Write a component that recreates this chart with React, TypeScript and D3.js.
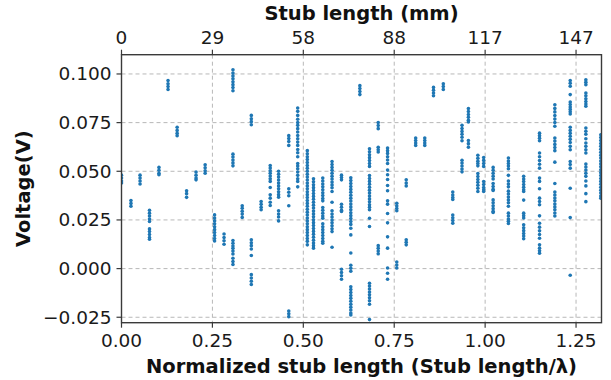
import * as d3 from 'd3'

// normalized stub length of each measured group of points
const stubX = [
  0.0, 0.026, 0.051, 0.077, 0.103, 0.128, 0.153, 0.179, 0.205, 0.23,
  0.256, 0.282, 0.3065, 0.332, 0.357, 0.384, 0.409, 0.432, 0.46, 0.4846,
  0.511, 0.528, 0.5535, 0.579, 0.605, 0.6306, 0.6555, 0.682, 0.706, 0.7317,
  0.757, 0.783, 0.809, 0.834, 0.858, 0.885, 0.911, 0.9364, 0.954, 0.98,
  0.996, 1.022, 1.064, 1.106, 1.1496, 1.1917, 1.234, 1.277, 1.318,
]

// voltages read at each stub length (V)
const voltages: number[][] = [
  [0.048, 0.0465, 0.045, 0.044],
  [0.035, 0.0335, 0.032],
  [0.048, 0.0465, 0.045, 0.0435],
  [0.03, 0.0285, 0.027, 0.0255, 0.0242, 0.0204, 0.019, 0.0175, 0.016, 0.0151],
  [0.052, 0.0505, 0.049, 0.0482],
  [0.0966, 0.095, 0.0935, 0.092],
  [0.0726, 0.071, 0.0695, 0.0683],
  [0.04, 0.0385, 0.0366],
  [0.0496, 0.048, 0.0465, 0.0456],
  [0.0533, 0.0518, 0.0503, 0.049],
  [0.0276, 0.026, 0.0245, 0.023, 0.0215, 0.02, 0.0185, 0.017, 0.0155, 0.0142],
  [0.0178, 0.016, 0.0143, 0.0125],
  [0.1022, 0.1005, 0.099, 0.0975, 0.096, 0.0945, 0.093, 0.0914, 0.0588, 0.0573, 0.0558, 0.0543, 0.0528,
    0.0144, 0.013, 0.0116, 0.0104, 0.009, 0.0075, 0.0053, 0.0036, 0.0021],
  [0.0323, 0.031, 0.0295, 0.028, 0.0263],
  [0.0787, 0.077, 0.0755, 0.0739, 0.0148, 0.0133, 0.0118, 0.0101, 0.0067, -0.0031, -0.0048, -0.0065, -0.0082],
  [0.0345, 0.033, 0.0315, 0.0302],
  [0.053, 0.0517, 0.0503, 0.049, 0.0476, 0.0462, 0.0448, 0.0417, 0.0379, 0.0362, 0.0341, 0.0324],
  [0.05, 0.0485, 0.047, 0.0455, 0.044, 0.0425, 0.041, 0.0395, 0.038, 0.0367, 0.0297, 0.028, 0.0265, 0.0245],
  [0.0683, 0.0668, 0.0653, 0.0633, 0.041, 0.0392, 0.0374, 0.0323, -0.0218, -0.0232, -0.0247],
  [0.0825, 0.0808, 0.0787, 0.0767, 0.075, 0.0736, 0.0719, 0.0702, 0.0684, 0.0667, 0.065, 0.0633, 0.0612,
    0.0595, 0.0575, 0.054, 0.0527, 0.0513, 0.0496, 0.0479, 0.0461, 0.0448, 0.042],
  [0.0606, 0.059, 0.0575, 0.056, 0.0545, 0.053, 0.0515, 0.05, 0.0485, 0.047, 0.0455, 0.044, 0.0425, 0.041,
    0.0395, 0.038, 0.0365, 0.035, 0.0335, 0.032, 0.0305, 0.029, 0.0275, 0.026, 0.0245, 0.023, 0.0215, 0.02,
    0.0185, 0.017, 0.0155, 0.014, 0.0122],
  [0.0461, 0.0446, 0.0431, 0.0416, 0.0401, 0.0386, 0.0371, 0.0356, 0.0341, 0.0326, 0.0311, 0.0296, 0.0281,
    0.0266, 0.0251, 0.0236, 0.0221, 0.0206, 0.0191, 0.0176, 0.0161, 0.0146, 0.0131, 0.0118, 0.0105],
  [0.0465, 0.045, 0.0435, 0.042, 0.0405, 0.039, 0.0375, 0.036, 0.0348, 0.0314, 0.03, 0.0285, 0.027, 0.0259,
    0.023, 0.0215, 0.02, 0.0185, 0.017, 0.0155, 0.014, 0.013],
  [0.055, 0.0535, 0.052, 0.0505, 0.049, 0.0475, 0.046, 0.0445, 0.043, 0.0415, 0.0396, 0.0341, 0.0297, 0.028,
    0.0265, 0.025, 0.0235, 0.022, 0.0205, 0.019, 0.011],
  [0.048, 0.0468, 0.0456, 0.033, 0.0315, 0.03, 0.0293, -0.0003, -0.002, -0.0037, -0.0055],
  [0.0467, 0.0452, 0.0437, 0.0422, 0.0407, 0.0392, 0.0377, 0.0362, 0.0347, 0.0332, 0.0317, 0.0302, 0.0287,
    0.0272, 0.0257, 0.0242, 0.0227, 0.0207, 0.0173, 0.008, 0.0017, 0.0002, -0.0014, -0.0093, -0.0108, -0.0123,
    -0.0138, -0.0153, -0.0168, -0.0183, -0.0198, -0.0213, -0.0228, -0.0238],
  [0.094, 0.0925, 0.091, 0.0894],
  [0.0616, 0.06, 0.0585, 0.057, 0.0555, 0.054, 0.0525, 0.0478, 0.0463, 0.0448, 0.0433, 0.0418, 0.0403, 0.0388,
    0.0373, 0.0358, 0.0343, 0.0328, 0.0315, 0.0302, 0.0259, 0.0216, -0.0075, -0.009, -0.0105, -0.012, -0.0135,
    -0.015, -0.0165, -0.0183, -0.0262],
  [0.075, 0.0735, 0.0719, 0.0623, 0.061, 0.0599, 0.0118, 0.0104, 0.009, 0.0076],
  [0.0619, 0.0606, 0.0592, 0.0575, 0.0558, 0.054, 0.0506, 0.0482, 0.0458, 0.0427, 0.04, 0.0348, 0.0331,
    0.0283, 0.0235, 0.0163, 0.0105, 0.0003, -0.0024, -0.0055],
  [0.0336, 0.0322, 0.0309, 0.0297, 0.0034, 0.0018, 0.0003],
  [0.0456, 0.044, 0.0425, 0.0148, 0.0135, 0.0122],
  [0.0671, 0.0658, 0.0645, 0.0633],
  [0.0671, 0.0658, 0.0645, 0.0633],
  [0.0931, 0.0916, 0.0902, 0.0888],
  [0.095, 0.0935, 0.092],
  [0.0393, 0.0378, 0.0365, 0.0355, 0.0275, 0.0261, 0.0247, 0.0233],
  [0.0736, 0.072, 0.0705, 0.069, 0.0675, 0.0657, 0.0557, 0.0542, 0.0527, 0.0512, 0.0497],
  [0.0822, 0.0807, 0.0792, 0.0777, 0.0762, 0.0753, 0.0658, 0.0642, 0.0624],
  [0.0582, 0.0567, 0.0552, 0.054, 0.0528, 0.0488, 0.0473, 0.0458, 0.0443, 0.0428, 0.0413, 0.0396],
  [0.0571, 0.0556, 0.054, 0.0525, 0.0447, 0.0432, 0.0417, 0.0405, 0.0396],
  [0.052, 0.0505, 0.049, 0.0475, 0.046, 0.0437, 0.0422, 0.0408, 0.0401, 0.0353, 0.0338, 0.0323, 0.0308,
    0.0295, 0.0288],
  [0.0568, 0.0553, 0.054, 0.0527, 0.0513, 0.0479, 0.045, 0.0435, 0.042, 0.0398, 0.0383, 0.0368, 0.0353,
    0.0338, 0.032, 0.0285, 0.027, 0.0255, 0.0243, 0.0232],
  [0.0474, 0.046, 0.0447, 0.0432, 0.0418, 0.0405, 0.0396, 0.0352, 0.0285, 0.0272, 0.026, 0.0225, 0.021,
    0.0195, 0.018, 0.0167, 0.0153],
  [0.0696, 0.0683, 0.067, 0.0657, 0.0594, 0.0575, 0.0555, 0.0536, 0.0516, 0.0465, 0.0448, 0.041, 0.0362,
    0.0345, 0.0328, 0.0271, 0.0233, 0.0213, 0.0194, 0.0175, 0.0156, 0.0122, 0.0105, 0.0092, 0.0079],
  [0.0842, 0.0823, 0.0805, 0.0786, 0.0768, 0.075, 0.0731, 0.0671, 0.0655, 0.0638, 0.0622, 0.0606, 0.0547,
    0.0437, 0.0393, 0.0378, 0.0363, 0.0348, 0.0332, 0.0317, 0.0302, 0.0286, 0.027],
  [0.0966, 0.0952, 0.0937, 0.0894, 0.0856, 0.0843, 0.083, 0.0818, 0.0806, 0.0794, 0.0726, 0.071, 0.0695,
    0.068, 0.0664, 0.0648, 0.0628, 0.0611, 0.055, 0.0535, 0.0516, 0.0413, 0.0262, -0.0034],
  [0.097, 0.0958, 0.0945, 0.0902, 0.0888, 0.0873, 0.0858, 0.0846, 0.0834, 0.0722, 0.0706, 0.069, 0.0667,
    0.0645, 0.0628, 0.061, 0.0594, 0.0537, 0.0522, 0.0506, 0.049, 0.0474, 0.045, 0.0425, 0.0385, 0.0344],
  [0.0688, 0.0673, 0.0658, 0.0643, 0.0628, 0.0613, 0.0598, 0.0583, 0.0568, 0.0553, 0.0538, 0.0523, 0.0508,
    0.0493, 0.0478, 0.0463, 0.0448, 0.0433, 0.0418, 0.0403, 0.0388, 0.0373, 0.0362],
]

const xTicks = [0, 0.25, 0.5, 0.75, 1.0, 1.25]
const mmTickLabels = ['0', '29', '58', '88', '117', '147']
const yTicks = [-0.025, 0, 0.025, 0.05, 0.075, 0.1]

const W = 611, H = 380
const margin = { top: 54.7, right: 9.5, bottom: 57.3, left: 121.5 }
const FONT = '"DejaVu Sans", sans-serif'

export default function App() {
  const x = d3.scaleLinear().domain([0, 1.32]).range([margin.left, W - margin.right])
  const y = d3.scaleLinear().domain([-0.0278, 0.1099]).range([H - margin.bottom, margin.top])
  const [x0, x1] = x.range()
  const [y0, y1] = y.range() // bottom, top

  const pts = stubX.flatMap((sx, i) => voltages[i].map(v => ({ sx, v })))
  const fx = d3.format('.2f')
  const fy = d3.format('.3f')
  const axisCol = '#3a3a3a'
  const gridCol = '#b8b8b8'

  return (
    <svg width={W} height={H} style={{ position: 'absolute', left: 0, top: 0, background: '#fff' }}
      fontFamily={FONT}>
      <defs>
        <clipPath id="plot">
          <rect x={x0} y={y1} width={x1 - x0} height={y0 - y1} />
        </clipPath>
      </defs>

      {/* grid */}
      <g stroke={gridCol} strokeWidth={1} strokeDasharray="4,3">
        {xTicks.map(t => <line key={'gx' + t} x1={x(t)} x2={x(t)} y1={y1} y2={y0} />)}
        {yTicks.map(t => <line key={'gy' + t} x1={x0} x2={x1} y1={y(t)} y2={y(t)} />)}
      </g>

      {/* points */}
      <g clipPath="url(#plot)" fill="#1f77b4">
        {pts.map((p, i) => <circle key={i} cx={x(p.sx)} cy={y(p.v)} r={1.8} />)}
      </g>

      {/* frame */}
      <rect x={x0} y={y1} width={x1 - x0} height={y0 - y1} fill="none" stroke={axisCol} strokeWidth={1.4} />

      {/* bottom axis */}
      {xTicks.map(t => (
        <g key={'bx' + t}>
          <line x1={x(t)} x2={x(t)} y1={y0} y2={y0 + 5} stroke={axisCol} strokeWidth={1.2} />
          <text x={x(t)} y={y0 + 24} textAnchor="middle" fontSize={18.5} fill="#1a1a1a">{fx(t)}</text>
        </g>
      ))}
      {/* top axis (mm) */}
      {xTicks.map((t, i) => (
        <g key={'tx' + t}>
          <line x1={x(t)} x2={x(t)} y1={y1} y2={y1 - 5} stroke={axisCol} strokeWidth={1.2} />
          <text x={x(t)} y={y1 - 11} textAnchor="middle" fontSize={18.5} fill="#1a1a1a">{mmTickLabels[i]}</text>
        </g>
      ))}
      {/* left axis */}
      {yTicks.map(t => (
        <g key={'ly' + t}>
          <line x1={x0} x2={x0 - 5} y1={y(t)} y2={y(t)} stroke={axisCol} strokeWidth={1.2} />
          <text x={x0 - 10} y={y(t)} dy="0.35em" textAnchor="end" fontSize={18.5} fill="#1a1a1a">{fy(t)}</text>
        </g>
      ))}

      {/* labels */}
      <text x={(x0 + x1) / 2} y={373} textAnchor="middle" fontSize={19.5} fontWeight="bold" fill="#111">
        Normalized stub length (Stub length/λ)
      </text>
      <text x={(x0 + x1) / 2} y={20} textAnchor="middle" fontSize={19.5} fontWeight="bold" fill="#111">
        Stub length (mm)
      </text>
      <text transform={`translate(30,${(y0 + y1) / 2}) rotate(-90)`} textAnchor="middle" fontSize={19.5}
        fontWeight="bold" fill="#111">
        Voltage(V)
      </text>
    </svg>
  )
}
